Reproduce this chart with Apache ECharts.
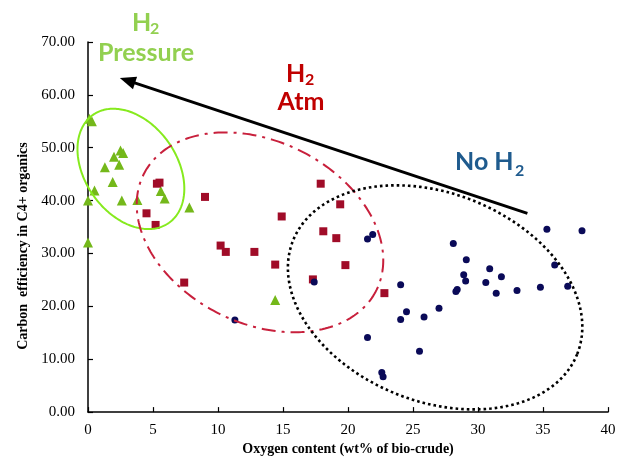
<!DOCTYPE html>
<html>
<head>
<meta charset="utf-8">
<script src="https://cdn.jsdelivr.net/npm/echarts@6/dist/echarts.min.js"></script>
<style>html,body{margin:0;padding:0;background:#fff}#c{width:619px;height:461px}</style>
</head>
<body>
<div id="c"></div>
<script>
// ---- data (x = oxygen wt%, y = carbon efficiency %) ----
const xTicks = [0, 5, 10, 15, 20, 25, 30, 35, 40];
const yTicks = ['0.00','10.00','20.00','30.00','40.00','50.00','60.00','70.00'];

const h2PressureX = [0.1, 0.3, 2.5, 2.7, 2.0, 2.4, 1.3, 1.9, 0.5, 0.0, 2.6, 3.8, 5.6, 5.9, 7.8, 0.0, 14.4];
const h2PressureY = [55.5, 55.0, 49.5, 49.0, 48.3, 46.8, 46.3, 43.5, 41.9, 40.0, 40.0, 40.1, 41.8, 40.4, 38.7, 32.1, 21.2];

const h2AtmX = [5.3, 5.5, 9.0, 4.5, 5.2, 17.9, 19.4, 14.9, 18.1, 19.1, 10.2, 10.6, 12.8, 14.4, 19.8, 17.3, 7.4, 22.8];
const h2AtmY = [43.2, 43.4, 40.7, 37.6, 35.4, 43.2, 39.3, 37.0, 34.2, 32.9, 31.5, 30.3, 30.3, 27.9, 27.8, 25.1, 24.5, 22.5];

const noH2X = [21.5, 21.9, 28.1, 35.3, 38.0, 29.1, 30.9, 28.9, 31.8, 29.05, 35.9, 36.9, 30.6, 34.8, 33.0, 31.4, 28.4, 28.3, 24.05, 27.0, 24.5, 25.85, 24.05, 21.5, 25.5, 22.6, 22.7, 17.4, 11.3];
const noH2Y = [32.75, 33.6, 31.9, 34.6, 34.3, 28.8, 27.1, 26.0, 25.6, 24.8, 27.8, 23.8, 24.5, 23.6, 23.0, 22.5, 23.2, 22.8, 24.1, 19.65, 19.0, 18.0, 17.5, 14.1, 11.5, 7.5, 6.7, 24.6, 17.4];

function pairs(xs, ys) { return xs.map((x, i) => [x, ys[i]]); }

const chart = echarts.init(document.getElementById('c'), null, {renderer: 'canvas'});
const serif = '"Liberation Serif", "Times New Roman", serif';

chart.setOption({
  animation: false,
  backgroundColor: '#ffffff',
  grid: {left: 88, right: 11, top: 42, bottom: 45, containLabel: false},
  xAxis: {
    type: 'value', min: 0, max: 40, interval: 5,
    name: 'Oxygen content (wt% of bio-crude)',
    nameLocation: 'middle', nameGap: 29,
    nameTextStyle: {fontFamily: serif, fontWeight: 'bold', fontSize: 14, color: '#000'},
    axisLine: {show: true, onZero: false, lineStyle: {color: '#000', width: 1.5}},
    axisTick: {show: true, inside: true, length: 5, lineStyle: {color: '#000', width: 1.2}},
    axisLabel: {fontFamily: serif, fontSize: 15, color: '#000', margin: 10,
      formatter: v => String(xTicks[xTicks.indexOf(v)])},
    splitLine: {show: false}
  },
  yAxis: {
    type: 'value', min: 0, max: 70, interval: 10,
    name: 'Carbon  efficiency in C4+ organics',
    nameLocation: 'middle', nameGap: 53,
    nameTextStyle: {fontFamily: serif, fontWeight: 'bold', fontSize: 14, color: '#000', padding: [0, 38, 0, 0]},
    axisLine: {show: true, onZero: false, lineStyle: {color: '#000', width: 1.5}},
    axisTick: {show: true, inside: true, length: 5, lineStyle: {color: '#000', width: 1.2}},
    axisLabel: {fontFamily: serif, fontSize: 15, color: '#000', margin: 13,
      formatter: v => yTicks[Math.round(v / 10)]},
    splitLine: {show: false}
  },
  series: [
    {name: 'H2 Pressure', type: 'scatter', symbol: 'triangle', symbolSize: 10,
     itemStyle: {color: '#74b81a', opacity: 1}, data: pairs(h2PressureX, h2PressureY), z: 3},
    {name: 'H2 Atm', type: 'scatter', symbol: 'rect', symbolSize: 8,
     itemStyle: {color: '#a00c28', opacity: 1}, data: pairs(h2AtmX, h2AtmY), z: 4},
    {name: 'No H2', type: 'scatter', symbol: 'circle', symbolSize: 7,
     itemStyle: {color: '#0a0a58', opacity: 1}, data: pairs(noH2X, noH2Y), z: 5}
  ]
});

// ---- annotations (ellipses, arrow, group labels) ----
function ellipsePts(cx, cy, a, b, deg) {
  const th = deg * Math.PI / 180, pts = [];
  for (let i = 0; i <= 240; i++) {
    const t = i / 240 * 2 * Math.PI;
    pts.push([cx + a * Math.cos(th) * Math.cos(t) - b * Math.sin(th) * Math.sin(t),
              cy + a * Math.sin(th) * Math.cos(t) + b * Math.cos(th) * Math.sin(t)]);
  }
  return pts;
}
function toPx(x, y) { return chart.convertToPixel({gridIndex: 0}, [x, y]); }

const gC = toPx(3.3, 46.0), rC = toPx(13.23, 34.0), bC = toPx(26.7, 21.7);
const tail = toPx(33.8, 37.6), tip = toPx(2.45, 63.2);
const ang = Math.atan2(tip[1] - tail[1], tip[0] - tail[0]);
const hl = 16, hw = 6.5;
const base = [tip[0] - hl * Math.cos(ang), tip[1] - hl * Math.sin(ang)];
const head = [tip,
  [base[0] + hw * Math.sin(ang), base[1] - hw * Math.cos(ang)],
  [base[0] - hw * Math.sin(ang), base[1] + hw * Math.cos(ang)]];

const lato = 'Lato, "Open Sans", sans-serif';
function txt(x, y, s, size, color, align) {
  return {type: 'text', x: x, y: y, z: 10,
    style: {text: s, fontFamily: lato, fontWeight: 'bold', fontSize: size, fill: color,
      align: align || 'left', verticalAlign: 'top'}};
}

chart.setOption({
  graphic: [
    {type: 'polyline', z: 6, shape: {points: ellipsePts(gC[0], gC[1], 66, 46, 55)},
     style: {stroke: '#86ea1e', lineWidth: 2, fill: null}},
    {type: 'polyline', z: 6, shape: {points: ellipsePts(rC[0], rC[1], 130, 91, 26.4)},
     style: {stroke: '#c8203c', lineWidth: 2, fill: null, lineDash: [14, 6, 3, 6]}},
    {type: 'polyline', z: 6, shape: {points: ellipsePts(bC[0], bC[1], 153, 104, 21.8)},
     style: {stroke: '#000', lineWidth: 2.6, fill: null, lineDash: [2.6, 3]}},
    {type: 'line', z: 7, shape: {x1: tail[0], y1: tail[1], x2: base[0] + 2 * Math.cos(ang), y2: base[1] + 2 * Math.sin(ang)},
     style: {stroke: '#000', lineWidth: 3}},
    {type: 'polygon', z: 7, shape: {points: head}, style: {fill: '#000'}},

    txt(132, 10, 'H', 25, '#92d050'), txt(150, 21, '2', 16, '#92d050'),
    txt(146, 40, 'Pressure', 25, '#92d050', 'center'),
    txt(286, 61, 'H', 25, '#c00000'), txt(305, 72, '2', 16, '#c00000'),
    txt(301, 89, 'Atm', 25, '#c00000', 'center'),
    txt(455, 149, 'No H', 25, '#1f5b8e'), txt(515, 163, '2', 16, '#1f5b8e')
  ]
});
</script>
</body>
</html>
